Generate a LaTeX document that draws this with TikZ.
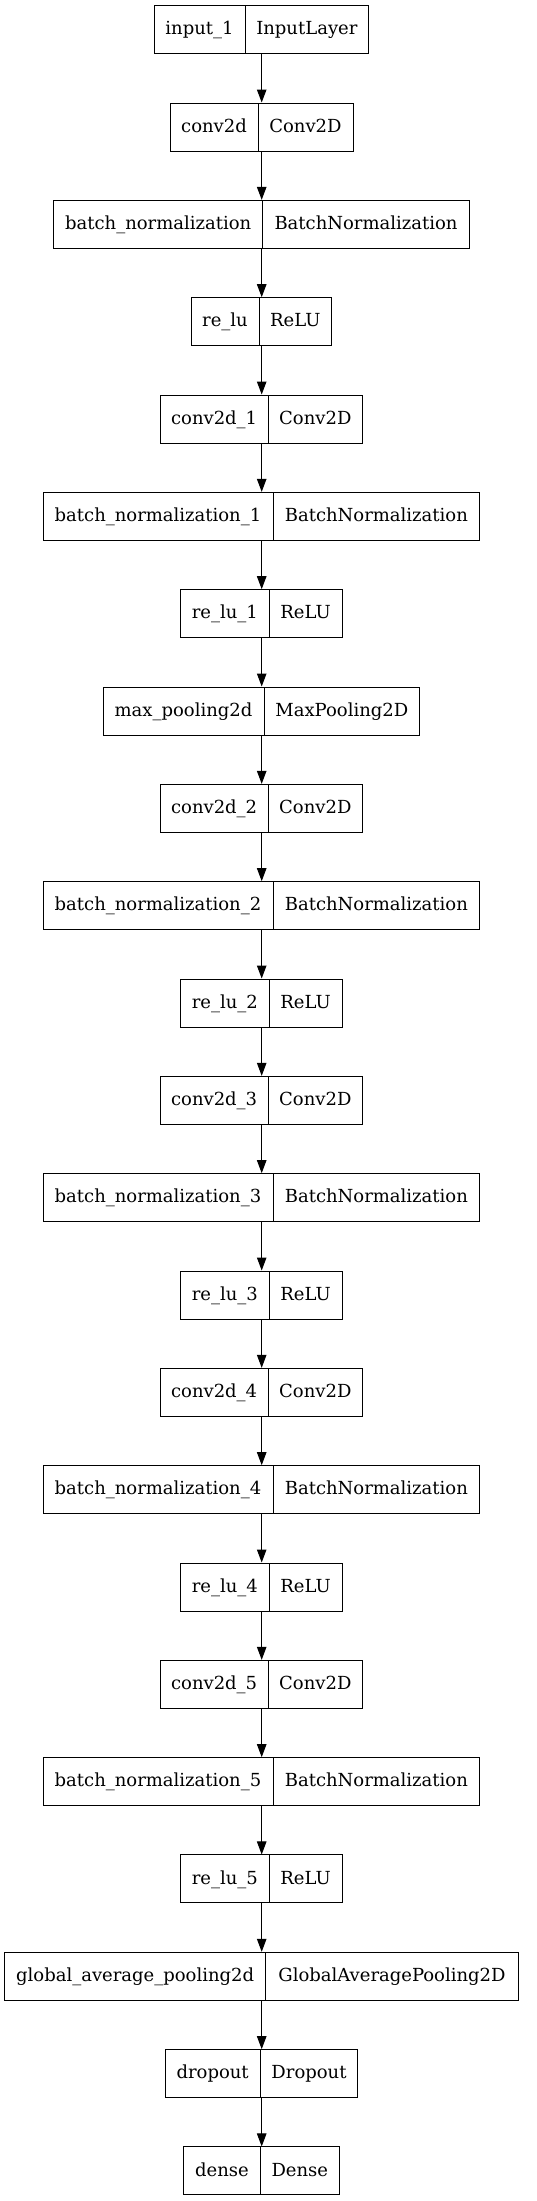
\documentclass[tikz,border=0pt]{standalone}
\usepackage{fontspec}
\setmainfont{DejaVu Serif}
\usetikzlibrary{arrows.meta}
\tikzset{layer part/.style={draw=black,line width=1pt,inner sep=0pt,minimum height=48pt,
    text height=13.5pt,text depth=3pt,font=\fontsize{18}{22}\selectfont},
  flow/.style={line width=1pt,-{Triangle[length=13pt,width=9.5pt]}}}

\begin{document}
\begin{tikzpicture}[x=1pt,y=-1pt]
  \useasboundingbox (0,0) rectangle (537,2201);
  \coordinate (spine) at (261.7,0);
  % layer k: name / class / left / divider / right
  \foreach \k/\nm/\cls/\L/\D/\R in {
      0/input\_1/InputLayer/154/245/368.7,
      1/conv2d/Conv2D/170/258/353,
      2/batch\_normalization/BatchNormalization/53.7/262.7/469.3,
      3/re\_lu/ReLU/191/259/331.7,
      4/conv2d\_1/Conv2D/160.3/268/362.7,
      5/batch\_normalization\_1/BatchNormalization/43/273/479.7,
      6/re\_lu\_1/ReLU/180.7/269/342,
      7/max\_pooling2d/MaxPooling2D/103/264/419.7,
      8/conv2d\_2/Conv2D/160.3/268/362.7,
      9/batch\_normalization\_2/BatchNormalization/43/273/479.7,
      10/re\_lu\_2/ReLU/180.7/269/342,
      11/conv2d\_3/Conv2D/160.3/268/362.7,
      12/batch\_normalization\_3/BatchNormalization/43/273/479.7,
      13/re\_lu\_3/ReLU/180.7/269/342,
      14/conv2d\_4/Conv2D/160.3/268/362.7,
      15/batch\_normalization\_4/BatchNormalization/43/273/479.7,
      16/re\_lu\_4/ReLU/180.7/269/342,
      17/conv2d\_5/Conv2D/160.3/268/362.7,
      18/batch\_normalization\_5/BatchNormalization/43/273/479.7,
      19/re\_lu\_5/ReLU/180.7/269/342,
      20/global\_average\_pooling2d/GlobalAveragePooling2D/4.7/265.7/518.3,
      21/dropout/Dropout/165/260.3/357.7,
      22/dense/Dense/183.7/260.3/339.3}{
    \pgfmathsetmacro\yc{29.7+97.33*\k}
    \node[layer part,minimum width={\D-\L}] (name\k) at ({(\L+\D)/2},\yc) {\nm};
    \node[layer part,minimum width={\R-\D}] (type\k) at ({(\D+\R)/2},\yc) {\cls};
  }
  \foreach \k [evaluate=\k as \j using int(\k+1)] in {0,...,21}
    \draw[flow] (name\k.south -| spine) -- (name\j.north -| spine);
\end{tikzpicture}
\end{document}
